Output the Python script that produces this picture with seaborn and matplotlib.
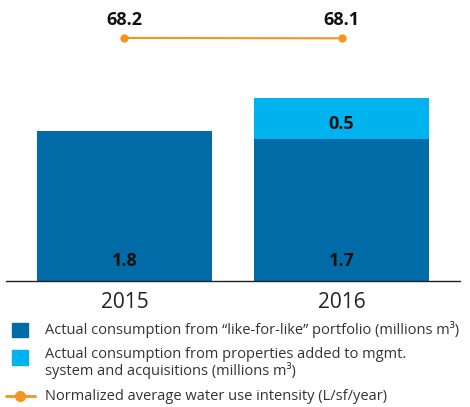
import matplotlib
matplotlib.use("Agg")
import matplotlib.pyplot as plt
import seaborn as sns
import pandas as pd
from matplotlib.patches import Rectangle
from matplotlib.lines import Line2D

years = ["2015", "2016"]
like_for_like = [1.8, 1.7]
added = [0.0, 0.5]
intensity = [68.2, 68.1]
legend_labels = [
    "Actual consumption from \u201clike-for-like\u201d portfolio (millions m\u00b3)",
    "Actual consumption from properties added to mgmt.\nsystem and acquisitions (millions m\u00b3)",
    "Normalized average water use intensity (L/sf/year)",
]

DARK = "#006ba6"
LIGHT = "#00b2ee"
ORANGE = "#f7941d"

sns.set_theme(style="white")
plt.rcParams["font.family"] = ["Open Sans", "DejaVu Sans"]

W, H = 470, 407
fig = plt.figure(figsize=(W / 100, H / 100), dpi=100)
ax = fig.add_axes([6 / W, (H - 281) / H, 454 / W, 276 / H])

df = pd.DataFrame({"year": years, "lfl": like_for_like, "added": added})
df["total"] = df["lfl"] + df["added"]

sns.barplot(data=df, x="year", y="total", color=LIGHT, width=0.806,
            saturation=1, linewidth=0, ax=ax)
sns.barplot(data=df, x="year", y="lfl", color=DARK, width=0.806,
            saturation=1, linewidth=0, ax=ax)

ax.set_xlim(-0.546, 1.546)
ax.set_ylim(0, 276 / 83.3)
ax.set_xlabel("")
ax.set_ylabel("")
ax.set_yticks([])
for s in ["top", "left", "right"]:
    ax.spines[s].set_visible(False)
ax.spines["bottom"].set_color("#222222")
ax.spines["bottom"].set_linewidth(1.0)
ax.tick_params(axis="x", length=0, pad=8, labelsize=15, labelcolor="#222222")

for i, (a, b) in enumerate(zip(like_for_like, added)):
    ax.text(i, 0.24, f"{a:.1f}", ha="center", va="center", fontsize=13,
            fontweight="bold", color="#111111")
    if b > 0:
        ax.text(i, a + 0.18, f"{b:.1f}", ha="center", va="center",
                fontsize=13, fontweight="bold", color="#111111")

ax2 = ax.twinx()
ax2.set_ylim(0, 68.15 / 0.88)
sns.lineplot(x=[0, 1], y=intensity, color=ORANGE, marker="o", markersize=6,
             markeredgewidth=0, linewidth=1.5, ax=ax2)
ax2.set_xlim(-0.546, 1.546)
ax2.set_yticks([])
ax2.set_ylabel("")
for s in ["top", "left", "right", "bottom"]:
    ax2.spines[s].set_visible(False)
for i, v in enumerate(intensity):
    ax2.annotate(f"{v:.1f}", (i, v), xytext=(0, 13), textcoords="offset points",
                 ha="center", va="center", fontsize=13, fontweight="bold",
                 color="#111111")

# legend
def fx(px):
    return px / W

def fy(py):
    return 1 - py / H

fs = 10.5
fig.add_artist(Rectangle((fx(12), fy(337)), 16 / W, 14 / H, color=DARK,
                         transform=fig.transFigure))
fig.text(fx(45), fy(330), legend_labels[0], ha="left", va="center",
         fontsize=fs, color="#333333")
fig.add_artist(Rectangle((fx(12), fy(365)), 16 / W, 15 / H, color=LIGHT,
                         transform=fig.transFigure))
fig.text(fx(45), fy(363), legend_labels[1], ha="left", va="center",
         fontsize=fs, color="#333333", linespacing=0.95)
fig.add_artist(Line2D([fx(6), fx(35)], [fy(396), fy(396)], color=ORANGE,
                      linewidth=2, transform=fig.transFigure))
fig.add_artist(Line2D([fx(20)], [fy(396)], color=ORANGE, marker="o",
                      markersize=8, markeredgewidth=0,
                      transform=fig.transFigure))
fig.text(fx(45), fy(396), legend_labels[2], ha="left", va="center",
         fontsize=fs, color="#333333")

fig.savefig("out.png", dpi=100)
